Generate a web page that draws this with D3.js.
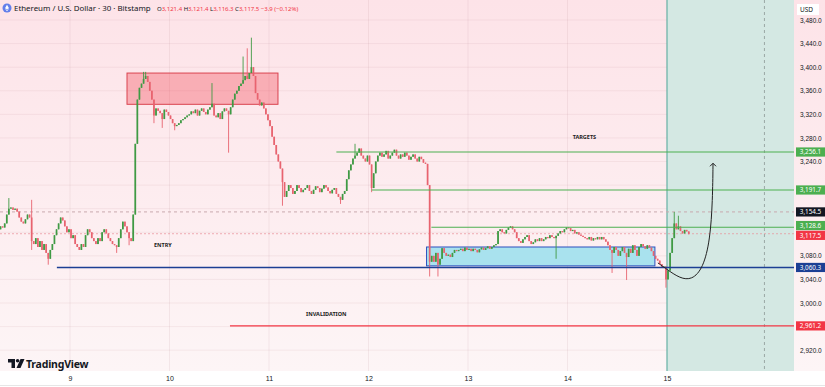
<!DOCTYPE html>
<html lang="en">
<head>
<meta charset="UTF-8">
<title>ETHUSD 30 Bitstamp</title>
<script src="https://d3js.org/d3.v7.min.js"></script>
<style>
  body { margin: 0; background: #fff; }
  svg { display: block; font-family: "Noto Sans", "DejaVu Sans", sans-serif; }
  .axis text { fill: #131722; }
  .axis path, .axis line { display: none; }
</style>
</head>
<body>
<svg id="chart" width="825" height="387"></svg>
<script>
// ---- data ----------------------------------------------------------------
// 30 minute closes, first bar opens 8th 07:00, each open = previous close
const firstOpen = 3125;
const closes = [
  // 8th 07:00 - 8th 23:30
  3130, 3128, 3135, 3150, 3160, 3162, 3158, 3160, 3155, 3145, 3138, 3135, 3142, 3150, 3145, 3105,
  3100, 3110, 3095, 3105, 3090, 3100, 3085, 3075, 3090, 3100, 3115, 3125, 3135, 3145, 3140, 3130, 3120, 3125,
  // 9th
  3110, 3115, 3100, 3095, 3090, 3100, 3095, 3115, 3125, 3120, 3110, 3105, 3100, 3110, 3105, 3120,
  3125, 3118, 3110, 3105, 3100, 3098, 3095, 3110, 3125, 3138, 3130, 3120, 3110, 3105,
  3150, 3270, 3345, 3365, 3372, 3380, 3385, 3375, 3360, 3345, 3318, 3330, 3326, 3322, 3312, 3328, 3324, 3318,
  // 10th
  3312, 3305, 3300, 3302, 3305, 3310, 3312, 3315, 3318, 3320, 3325, 3322, 3328, 3318, 3326, 3330,
  3324, 3320, 3328, 3332, 3338, 3318, 3315, 3322, 3312, 3325, 3330, 3326, 3320, 3332, 3345, 3355,
  3360, 3368, 3372, 3378, 3385, 3380, 3390, 3400, 3385, 3356, 3345, 3335, 3340, 3330, 3320, 3310,
  // 11th
  3300, 3282, 3268, 3252, 3240, 3228, 3205, 3180, 3190, 3200, 3195, 3185, 3190, 3200, 3195, 3188,
  3192, 3195, 3200, 3190, 3185, 3192, 3198, 3195, 3188, 3194, 3200, 3196, 3190, 3186, 3192, 3195,
  3185, 3180, 3175, 3185, 3190, 3210, 3225, 3235, 3245, 3250, 3255, 3262, 3250, 3245, 3240, 3250,
  // 12th
  3235, 3195, 3220, 3240, 3250, 3255, 3248, 3252, 3258, 3245, 3250, 3255, 3260, 3250, 3245, 3252,
  3248, 3255, 3250, 3243, 3248, 3252, 3245, 3240, 3248, 3244, 3238, 3236, 3200, 3070, 3080, 3070,
  3085, 3065, 3075, 3093, 3085, 3080, 3082, 3078, 3085, 3090, 3088, 3090, 3092, 3088, 3094, 3090,
  // 13th
  3092, 3088, 3092, 3090, 3086, 3091, 3094, 3090, 3093, 3096, 3092, 3095, 3098, 3100, 3122, 3125,
  3120, 3118, 3124, 3128, 3130, 3125, 3120, 3110, 3105, 3102, 3108, 3112, 3115, 3105, 3100, 3103,
  3108, 3105, 3110, 3105, 3108, 3112, 3110, 3115, 3112, 3110, 3114, 3118, 3122, 3120, 3125, 3128,
  // 14th
  3127, 3122, 3124, 3118, 3120, 3116, 3114, 3112, 3110, 3108, 3112, 3106, 3110, 3108, 3112, 3108,
  3112, 3108, 3104, 3098, 3090, 3085, 3095, 3090, 3080, 3088, 3095, 3085, 3078, 3092, 3085, 3098,
  3090, 3080, 3095, 3100, 3096, 3092, 3098, 3094, 3088, 3080, 3075, 3072, 3066, 3060, 3062, 3040,
  // 15th
  3055, 3085, 3110, 3135, 3125, 3130, 3122, 3118, 3124, 3121.4, 3117.5
];
// wicks that reach beyond the body (bar index -> price)
const wickHigh = { 4: 3178, 15: 3175, 69: 3392, 70: 3392, 102: 3373, 117: 3418, 119: 3432, 121: 3450,
  171: 3270, 325: 3154.5, 327: 3148, 332: 3121.4 };
const wickLow = { 15: 3090, 23: 3065, 56: 3085, 62: 3098, 74: 3305, 78: 3297, 84: 3293, 110: 3255,
  136: 3165, 164: 3168, 179: 3188, 207: 3045, 211: 3045, 268: 3075, 295: 3051, 302: 3039, 321: 3026,
  332: 3116.3 };

const dayTicks = [9, 10, 11, 12, 13, 14, 15];
const priceTicks = [2920, 2960, 3000, 3040, 3080, 3120, 3160, 3200, 3240, 3280, 3320, 3360, 3400, 3440, 3480];

// horizontal levels
const levelPrices = [3256.1, 3191.7, 3128.6, 3060.3, 2961.2];
const levelStart = ["2025-07-11T16:15", "2025-07-12T00:45", "2025-07-12T15:10", "2025-07-08T20:50", "2025-07-10T14:35"];
const levelKind = ["target", "target", "target", "entry", "stop"];

// boxes [startTime, endTime, top price, bottom price]
const supplyBox = ["2025-07-09T13:45", "2025-07-11T02:10", 3390, 3337];
const rangeBox = ["2025-07-12T14:00", "2025-07-14T21:05", 3095, 3063];
const projectionStart = "2025-07-15T00:00";
const projectionMid = "2025-07-15T23:30";

// text notes [label, time, price]
const notes = [["TARGETS", "2025-07-14T04:05", 3281], ["ENTRY", "2025-07-09T22:25", 3097], ["INVALIDATION", "2025-07-11T13:50", 2980]];

// projected path [hours from 15th 00:00, price]
const arrowPath = [[-2.2, 3068], [0.2, 3056], [3.1, 3042], [6.0, 3039], [8.7, 3059], [10.4, 3107], [11.0, 3175], [11.1, 3237]];

// price tags on the scale
const tagPrices = [3256.1, 3191.7, 3154.5, 3128.6, 3117.5, 3060.3, 2961.2];
const tagKind = ["target", "target", "high", "target", "last", "entry", "stop"];

// ---- styles ----------------------------------------------------------------
const colors = { up: "#3f9a44", down: "#e8636f", target: "#4caf50", entry: "#1c3f94", stop: "#f23645",
  high: "#131722", last: "#f23645" };

const W = 825, H = 387, plotR = 794, plotB = 371;
const svg = d3.select("#chart");
const defs = svg.append("defs");
const grad = defs.append("linearGradient").attr("id", "bg").attr("x1", 0).attr("y1", 0).attr("x2", 0).attr("y2", 1);
grad.append("stop").attr("offset", "0%").attr("stop-color", "#fde3e8");
grad.append("stop").attr("offset", "100%").attr("stop-color", "#fdf5f6");
defs.append("clipPath").attr("id", "plotclip").append("rect").attr("width", plotR).attr("height", plotB);

svg.append("rect").attr("width", W).attr("height", plotB).attr("fill", "url(#bg)");

const parse = d3.isoParse;
const t0 = new Date(2025, 6, 8, 7, 0);
const bars = closes.map((c, i) => {
  const o = i === 0 ? firstOpen : closes[i - 1];
  return {
    t: new Date(+t0 + i * 1800e3 + 900e3),
    o, c,
    h: Math.max(o, c, wickHigh[i] ?? -Infinity),
    l: Math.min(o, c, wickLow[i] ?? Infinity)
  };
});

const x = d3.scaleTime().domain([new Date(2025, 6, 9), new Date(2025, 6, 15)]).range([70, 667]);
const y = d3.scaleLinear().domain([2884.7, 3513.9]).range([plotB, 0]);
const localDate = s => { const d = parse(s + ":00Z"); return new Date(d.getUTCFullYear(), d.getUTCMonth(), d.getUTCDate(), d.getUTCHours(), d.getUTCMinutes()); };

const plot = svg.append("g").attr("clip-path", "url(#plotclip)");

// grid
plot.append("g").selectAll("line").data(dayTicks).join("line")
  .attr("x1", d => x(new Date(2025, 6, d))).attr("x2", d => x(new Date(2025, 6, d)))
  .attr("y1", 0).attr("y2", plotB).attr("stroke", "#b07880").attr("stroke-opacity", 0.12);
plot.append("g").selectAll("line").data(priceTicks).join("line")
  .attr("x1", 0).attr("x2", plotR).attr("y1", d => y(d)).attr("y2", d => y(d))
  .attr("stroke", "#b07880").attr("stroke-opacity", 0.1);

// projection zone
const pz = localDate(projectionStart);
plot.append("rect").attr("x", x(pz)).attr("y", 0).attr("width", plotR - x(pz)).attr("height", plotB)
  .attr("fill", "#d4e8e3");
plot.append("line").attr("x1", x(pz)).attr("x2", x(pz)).attr("y1", 0).attr("y2", plotB)
  .attr("stroke", "#4fa89a").attr("stroke-width", 1);
plot.append("line").attr("x1", x(localDate(projectionMid))).attr("x2", x(localDate(projectionMid)))
  .attr("y1", 0).attr("y2", plotB).attr("stroke", "#9aa7a5").attr("stroke-dasharray", "3,3");

// dashed price lines
plot.append("line").attr("x1", 0).attr("x2", plotR).attr("y1", y(3154.5)).attr("y2", y(3154.5))
  .attr("stroke", "#c9a9ae").attr("stroke-dasharray", "3,3");
plot.append("line").attr("x1", 0).attr("x2", plotR).attr("y1", y(3117.5)).attr("y2", y(3117.5))
  .attr("stroke", "#e88d97").attr("stroke-dasharray", "2,2").attr("stroke-opacity", 0.7);

// boxes
function box(b, fill, stroke) {
  plot.append("rect")
    .attr("x", x(localDate(b[0]))).attr("y", y(b[2]))
    .attr("width", x(localDate(b[1])) - x(localDate(b[0]))).attr("height", y(b[3]) - y(b[2]))
    .attr("fill", fill).attr("stroke", stroke).attr("stroke-width", 1);
}
box(supplyBox, "rgba(242,54,69,0.32)", "#d9434f");
box(rangeBox, "#a9e2ee", "#2c4fbf");

// candles
const bw = 1.7;
const cg = plot.append("g");
cg.selectAll("line").data(bars).join("line")
  .attr("x1", d => x(d.t)).attr("x2", d => x(d.t))
  .attr("y1", d => y(d.h)).attr("y2", d => y(d.l))
  .attr("stroke", d => d.c >= d.o ? colors.up : colors.down).attr("stroke-width", 0.9);
cg.selectAll("rect").data(bars).join("rect")
  .attr("x", d => x(d.t) - bw / 2).attr("width", bw)
  .attr("y", d => y(Math.max(d.o, d.c)))
  .attr("height", d => Math.max(1, Math.abs(y(d.o) - y(d.c))))
  .attr("fill", d => d.c >= d.o ? colors.up : colors.down);

// levels
plot.append("g").selectAll("line").data(levelPrices).join("line")
  .attr("x1", (d, i) => x(localDate(levelStart[i]))).attr("x2", plotR)
  .attr("y1", d => y(d)).attr("y2", d => y(d))
  .attr("stroke", (d, i) => colors[levelKind[i]]).attr("stroke-width", (d, i) => levelKind[i] === "entry" ? 1.5 : 1.1);

// notes
plot.append("g").selectAll("text").data(notes).join("text")
  .attr("x", d => x(localDate(d[1]))).attr("y", d => y(d[2]))
  .attr("text-anchor", "middle").attr("dominant-baseline", "middle")
  .attr("font-size", 5.5).attr("font-weight", 700).attr("fill", "#222").text(d => d[0]);

// projected arrow
const line = d3.line()
  .x(d => x(new Date(2025, 6, 15, 0, d[0] * 60)))
  .y(d => y(d[1]))
  .curve(d3.curveBasis);
plot.append("path").attr("d", line(arrowPath)).attr("fill", "none").attr("stroke", "#222").attr("stroke-width", 1);
const tip = arrowPath[arrowPath.length - 1];
const tx = x(new Date(2025, 6, 15, 0, tip[0] * 60)), ty = y(tip[1]);
plot.append("path").attr("d", `M${tx - 3},${ty + 3} L${tx},${ty} L${tx + 3},${ty + 3}`)
  .attr("fill", "none").attr("stroke", "#222").attr("stroke-width", 1);

// x axis
svg.append("g").attr("class", "axis").attr("transform", `translate(0,${plotB + 2})`)
  .call(d3.axisBottom(x).tickValues(dayTicks.map(d => new Date(2025, 6, d))).tickFormat(d3.timeFormat("%-d")).tickSize(0))
  .call(g => g.selectAll("text").attr("font-size", 7).attr("dy", "0.71em"));

// y axis: tags hide the ticks they cover
const visibleTicks = priceTicks.filter(p => tagPrices.every(t => Math.abs(y(t) - y(p)) > 8));
svg.append("g").attr("class", "axis").attr("transform", `translate(800,0)`)
  .call(d3.axisRight(y).tickValues(visibleTicks).tickFormat(d3.format(",.1f")).tickSize(0).tickPadding(0))
  .call(g => g.selectAll("text").attr("font-size", 6.5).attr("fill", "#4a4f5a"));

// USD tag
svg.append("rect").attr("x", 797).attr("y", 4).attr("width", 22).attr("height", 11).attr("fill", "#fff");
svg.append("text").attr("x", 800).attr("y", 12).attr("font-size", 6.5).attr("fill", "#131722").text("USD");

// price tags, stacked so that neighbours do not cover each other
const tagH = 9.2;
const tagY = tagPrices.map(p => y(p));
for (let pass = 0; pass < 4; pass++) {
  for (let i = 1; i < tagY.length; i++) {
    const gap = tagY[i] - tagY[i - 1];
    if (gap < tagH + 0.6) {
      const push = (tagH + 0.6 - gap) / 2;
      tagY[i - 1] -= push; tagY[i] += push;
    }
  }
}
const tags = svg.append("g").selectAll("g").data(tagPrices).join("g")
  .attr("transform", (d, i) => `translate(796,${tagY[i]})`);
tags.append("rect").attr("x", 0).attr("y", -tagH / 2).attr("width", 29).attr("height", tagH)
  .attr("fill", (d, i) => colors[tagKind[i]]);
tags.append("text").attr("x", 14.5).attr("y", 0).attr("dy", "0.35em").attr("text-anchor", "middle")
  .attr("font-size", 6.3).attr("fill", "#fff").text(d => d3.format(",.1f")(d));

// header
svg.append("circle").attr("cx", 7).attr("cy", 8).attr("r", 4.5).attr("fill", "#627eea");
svg.append("path").attr("d", "M7,4.8 L9,8.2 L7,9.3 L5,8.2 Z M5,8.8 L7,11.3 L9,8.8 L7,10 Z").attr("fill", "#fff");
svg.append("text").attr("x", 14).attr("y", 11).attr("font-size", 7.9).attr("fill", "#131722")
  .text("Ethereum / U.S. Dollar · 30 · Bitstamp");
const ohlc = svg.append("text").attr("x", 157).attr("y", 10.5).attr("font-size", 6);
[["O", "3,121.4"], ["H", "3,121.4"], ["L", "3,116.3"], ["C", "3,117.5"]].forEach(([k, v]) => {
  ohlc.append("tspan").attr("fill", "#131722").text(k);
  ohlc.append("tspan").attr("fill", "#f23645").text(v + " ");
});
ohlc.append("tspan").attr("fill", "#f23645").text("−3.9 (−0.12%)");

// logo
const logo = svg.append("g").attr("transform", "translate(8,359)");
logo.append("path").attr("d", "M0,0 H7 V9 H3.5 V3.5 H0 Z").attr("fill", "#131722");
logo.append("circle").attr("cx", 9.6).attr("cy", 1.8).attr("r", 1.8).attr("fill", "#131722");
logo.append("path").attr("d", "M12.5,0 H16.5 L12.5,9 H8.5 Z").attr("fill", "#131722");
svg.append("text").attr("x", 26).attr("y", 368).attr("font-size", 10.5).attr("font-weight", 700)
  .attr("fill", "#131722").attr("letter-spacing", -0.2).text("TradingView");

// bottom border
svg.append("line").attr("x1", 0).attr("x2", W).attr("y1", H - 1.5).attr("y2", H - 1.5).attr("stroke", "#e6e6e6");
</script>
</body>
</html>
